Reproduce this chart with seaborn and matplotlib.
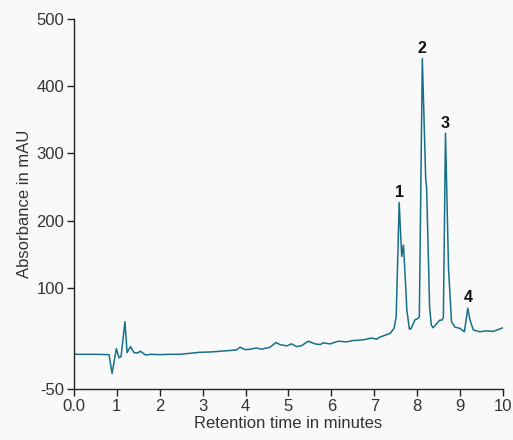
import numpy as np
import pandas as pd
import matplotlib
matplotlib.use("Agg")
import matplotlib.pyplot as plt
import seaborn as sns

# retention time (min) and absorbance (mAU)
time_min = [0.0, 0.5, 0.82, 0.89, 0.99, 1.05, 1.10, 1.19, 1.24, 1.32, 1.40, 1.48,
            1.55, 1.67, 1.8, 2.0, 2.2, 2.47, 2.7, 2.94, 3.2, 3.5, 3.79, 3.87,
            3.99, 4.1, 4.26, 4.37, 4.57, 4.71, 4.80, 4.96, 5.07, 5.19, 5.30,
            5.46, 5.62, 5.74, 5.81, 5.97, 6.16, 6.35, 6.51, 6.74, 6.94, 7.06,
            7.13, 7.37, 7.46, 7.51, 7.55, 7.58, 7.64, 7.68, 7.72, 7.76, 7.82,
            7.86, 7.95, 8.00, 8.05, 8.12, 8.20, 8.22, 8.29, 8.33, 8.37, 8.46,
            8.53, 8.57, 8.61, 8.66, 8.73, 8.80, 8.88, 9.00, 9.10, 9.18, 9.23,
            9.31, 9.46, 9.62, 9.77, 10.0]
absorbance = [1.5, 1.5, 1.0, -27, 10, -3.5, -2, 50, 4, 13, 4, 3.5,
              6, 0.5, 1.5, 1, 1.5, 1.5, 3, 4.5, 5, 6.5, 8, 12,
              8.5, 9, 11, 9, 12, 19, 16, 14, 17, 13, 14,
              21, 17, 16, 18.5, 17, 21, 20, 22, 23, 25.7, 24,
              27, 32.6, 40, 57, 150, 227, 147, 164, 117, 67, 38.6,
              40, 53, 54, 57, 441, 260, 250, 70, 45, 41, 47.5,
              52.5, 52, 56, 330, 130, 50, 42, 40, 35, 70, 52.5,
              37.6, 35, 36.5, 35.5, 41]

peak_labels = ["1", "2", "3", "4"]
peak_times = [7.58, 8.12, 8.66, 9.18]
peak_heights = [227, 441, 330, 70]

y_ticks = [-50, 100, 200, 300, 400, 500]
x_ticks = list(range(0, 11))
x_tick_labels = ["0.0"] + [str(i) for i in range(1, 11)]

sns.set_style("ticks")
plt.rcParams["font.family"] = ["Liberation Sans", "DejaVu Sans"]
plt.rcParams["axes.unicode_minus"] = False

df = pd.DataFrame({"time": time_min, "abs": absorbance})

bg = "#f9f9f9"
fig = plt.figure(figsize=(5.13, 4.40), dpi=100, facecolor=bg)
ax = fig.add_axes([0.144, 0.116, 0.8365, 0.841])
ax.set_facecolor(bg)

sns.lineplot(data=df, x="time", y="abs", ax=ax, color="#17708a", linewidth=1.1)

for lab, t, h in zip(peak_labels, peak_times, peak_heights):
    ax.annotate(lab, (t, h), xytext=(0, 2), textcoords="offset points",
                ha="center", va="bottom", fontsize=11.5, fontweight="bold", color="#111111")

ax.set_xlim(0, 10)
ax.set_ylim(-50, 500)
ax.set_xticks(x_ticks)
ax.set_xticklabels(x_tick_labels)
ax.set_yticks(y_ticks)
ax.tick_params(labelsize=12, colors="#222222", labelcolor="#333333",
               length=5, width=1, direction="out", pad=2)
for s in ["top", "right"]:
    ax.spines[s].set_visible(False)
for s in ["left", "bottom"]:
    ax.spines[s].set_color("#222222")
    ax.spines[s].set_linewidth(1)

ax.set_xlabel("Retention time in minutes", fontsize=12, color="#333333", labelpad=2)
ax.set_ylabel("Absorbance in mAU", fontsize=12, color="#333333", labelpad=3)

fig.savefig("out.png", dpi=100, facecolor=bg)
